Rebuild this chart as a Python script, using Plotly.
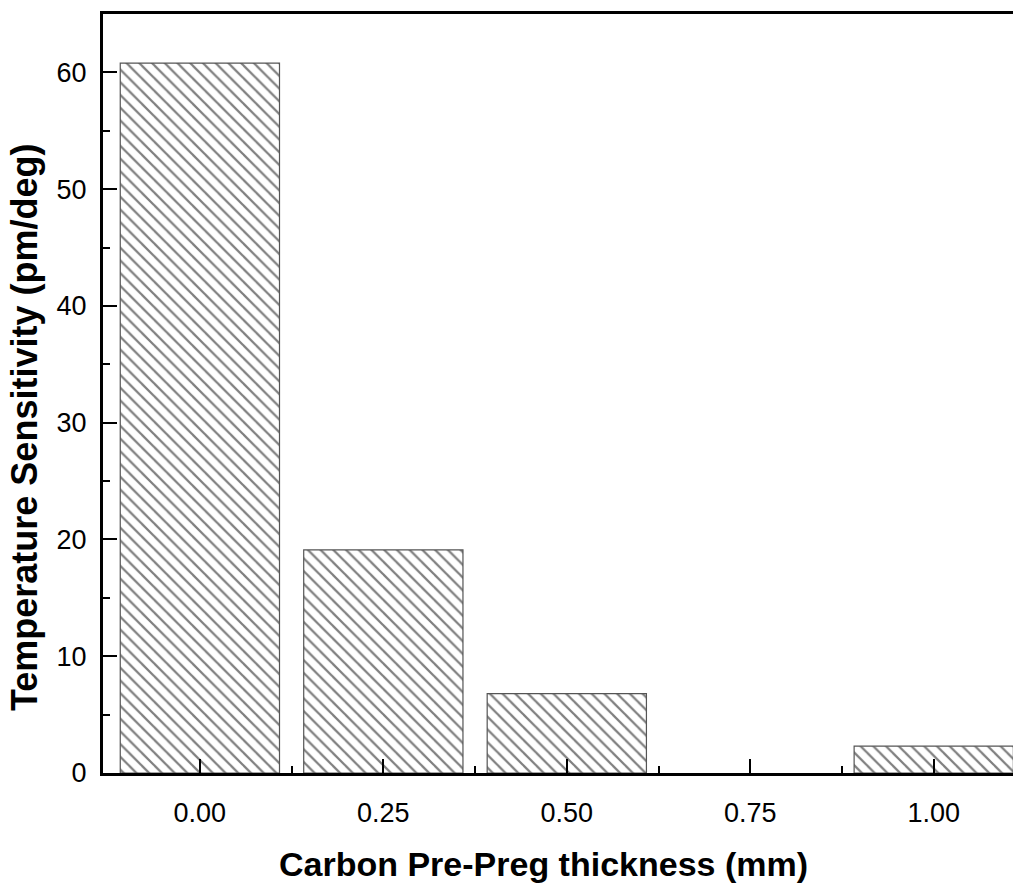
import plotly.graph_objects as go

thickness = [0.00, 0.25, 0.50, 1.00]
sensitivity = [60.8, 19.1, 6.8, 2.3]
x_ticks = [0.00, 0.25, 0.50, 0.75, 1.00]
x_tick_labels = ["0.00", "0.25", "0.50", "0.75", "1.00"]
x_minor_ticks = [0.125, 0.375, 0.625, 0.875]
y_ticks = [0, 10, 20, 30, 40, 50, 60]
y_minor_ticks = [5, 15, 25, 35, 45, 55]
x_title = "Carbon Pre-Preg thickness (mm)"
y_title = "Temperature Sensitivity (pm/deg)"

fig = go.Figure()
fig.add_trace(go.Bar(
    x=thickness, y=sensitivity, width=0.217,
    marker=dict(color="white",
                line=dict(color="#555555", width=1.2),
                pattern=dict(shape="\\", fgcolor="black", bgcolor="white",
                             size=9, solidity=0.25)),
))

font = "Liberation Sans, Arial, sans-serif"
fig.update_layout(
    width=1013, height=887,
    margin=dict(l=103, r=0, t=14, b=114),
    plot_bgcolor="white", paper_bgcolor="white",
    showlegend=False,
    font=dict(family=font, color="black", size=27),
)
fig.update_xaxes(
    range=[-0.132, 1.108], tickvals=x_ticks, ticktext=x_tick_labels,
    showline=True, linecolor="black", linewidth=3, mirror=True,
    ticks="inside", ticklen=14, tickwidth=2, tickcolor="black",
    minor=dict(ticks="inside", ticklen=7, tickwidth=2, tickcolor="black",
               tickvals=x_minor_ticks),
    showgrid=False, zeroline=False,
    tickfont=dict(size=27), ticklabelstandoff=14,
)
fig.update_yaxes(
    range=[0, 65], tickvals=y_ticks,
    showline=True, linecolor="black", linewidth=3, mirror=False,
    ticks="inside", ticklen=14, tickwidth=2, tickcolor="black",
    minor=dict(ticks="inside", ticklen=7, tickwidth=2, tickcolor="black",
               tickvals=y_minor_ticks),
    showgrid=False, zeroline=False,
    tickfont=dict(size=27), ticklabelstandoff=8,
)
fig.add_annotation(text="<b>" + x_title + "</b>", xref="paper", yref="paper",
                   x=0.4846, y=-0.1199, xanchor="center", yanchor="middle",
                   showarrow=False, font=dict(size=34))
fig.add_annotation(text="<b>" + y_title + "</b>", xref="paper", yref="paper",
                   x=-0.0868, y=0.4545, xanchor="center", yanchor="middle",
                   textangle=-90, showarrow=False, font=dict(size=36))

fig.write_html("out.html", config={"displayModeBar": False},
               post_script="document.body.style.margin='0';document.body.style.overflow='hidden';")
